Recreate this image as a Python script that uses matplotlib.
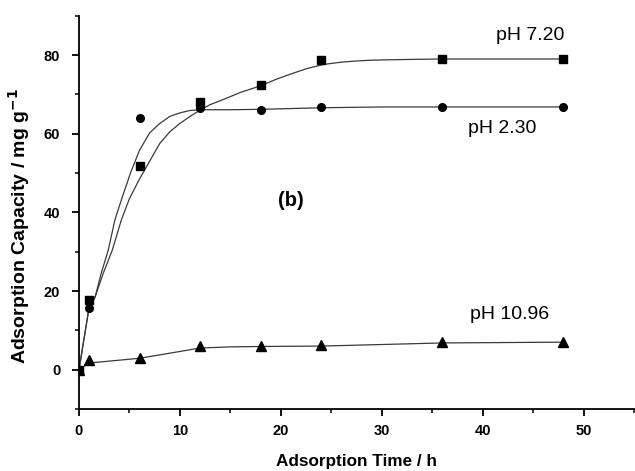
import matplotlib
matplotlib.use("Agg")
import matplotlib.pyplot as plt
from matplotlib.ticker import MultipleLocator

plt.rcParams["font.family"] = ["Liberation Sans", "DejaVu Sans"]

# measured points
time_h = [0, 1, 6, 12, 18, 24, 36, 48]
q_ph720 = [0, 17.7, 51.9, 68.1, 72.4, 78.8, 78.9, 79.0]
q_ph230 = [0, 15.6, 63.9, 66.5, 66.1, 66.8, 66.8, 66.8]
q_ph1096 = [0, 2.4, 3.0, 5.9, 5.9, 6.2, 7.0, 7.0]

# fitted curves
fit720_t = [0, 1, 1.6, 2.4, 3.3, 4.2, 5.0, 6.0, 7.0, 8.0, 9.0, 10.0, 11.0, 12.0,
            13.0, 14.3, 16.0, 17.9, 19.5, 20.9, 22.5, 24.2, 26.0, 27.5, 29.0,
            30.8, 33.0, 36.0, 42.0, 48.0]
fit720_q = [0, 15.8, 18.5, 24.5, 30.4, 38.1, 43.5, 48.5, 53.0, 57.5, 60.5, 62.6,
            64.4, 66.0, 67.4, 68.7, 70.5, 72.1, 73.8, 75.1, 76.5, 77.6, 78.2,
            78.5, 78.7, 78.8, 78.9, 79.0, 79.0, 79.0]
fit230_t = [0, 1, 1.6, 2.2, 2.9, 3.56, 4.2, 5.1, 6.0, 7.0, 8.0, 9.0, 10.0, 11.0,
            12.0, 15.0, 18.0, 24.0, 30.0, 36.0, 48.0]
fit230_q = [0, 15.8, 18.5, 24.5, 30.4, 38.1, 43.2, 50.0, 55.8, 60.2, 62.6, 64.4,
            65.3, 65.9, 66.1, 66.1, 66.2, 66.6, 66.8, 66.8, 66.8]
fit1096_t = [0, 1, 6, 12, 15, 18, 24, 36, 48]
fit1096_q = [0, 1.7, 2.9, 5.5, 5.8, 5.9, 6.0, 6.8, 7.0]

labels = ["pH 7.20", "pH 2.30", "pH 10.96"]

fig = plt.figure(figsize=(6.35, 4.71), dpi=100)
ax = fig.add_axes([0.1244, 0.1316, 0.874, 0.835])

line_color = "#3a3a3a"
ax.plot(fit720_t, fit720_q, color=line_color, lw=0.9)
ax.plot(fit230_t, fit230_q, color=line_color, lw=0.9)
ax.plot(fit1096_t, fit1096_q, color=line_color, lw=0.9)

ax.plot(time_h, q_ph720, "s", color="black", ms=5.5, ls="none")
ax.plot(time_h, q_ph230, "o", color="black", ms=5.5, ls="none")
ax.plot(time_h, q_ph1096, "^", color="black", ms=7, ls="none")

ax.text(44.7, 85.0, labels[0], fontsize=14, ha="center", va="center")
ax.text(41.9, 61.3, labels[1], fontsize=14, ha="center", va="center")
ax.text(42.7, 14.1, labels[2], fontsize=14, ha="center", va="center")
ax.text(21.0, 42.9, "(b)", fontsize=14.5, fontweight="bold", ha="center", va="center")

ax.set_xlim(0, 55)
ax.set_ylim(-10, 90)
ax.xaxis.set_major_locator(MultipleLocator(10))
ax.xaxis.set_minor_locator(MultipleLocator(5))
ax.yaxis.set_major_locator(MultipleLocator(20))
ax.yaxis.set_minor_locator(MultipleLocator(10))
ax.set_yticks([0, 20, 40, 60, 80])

for side in ("top", "right"):
    ax.spines[side].set_visible(False)
for side in ("left", "bottom"):
    ax.spines[side].set_linewidth(1.3)

ax.tick_params(which="major", direction="out", length=5, width=1.3,
               labelsize=10.5, pad=6)
ax.tick_params(axis="y", which="major", pad=8.5)
ax.tick_params(which="minor", direction="out", length=3, width=1.1)
for lab in ax.get_xticklabels() + ax.get_yticklabels():
    lab.set_fontweight("bold")

ax.set_xlabel("Adsorption Time / h", fontsize=12.3, fontweight="bold", labelpad=11)
ax.set_ylabel("Adsorption Capacity / mg g$^{\\mathbf{-1}}$", fontsize=14,
              fontweight="bold")
ax.yaxis.set_label_coords(-0.085, 0.465)

fig.savefig("out.png", dpi=100)
